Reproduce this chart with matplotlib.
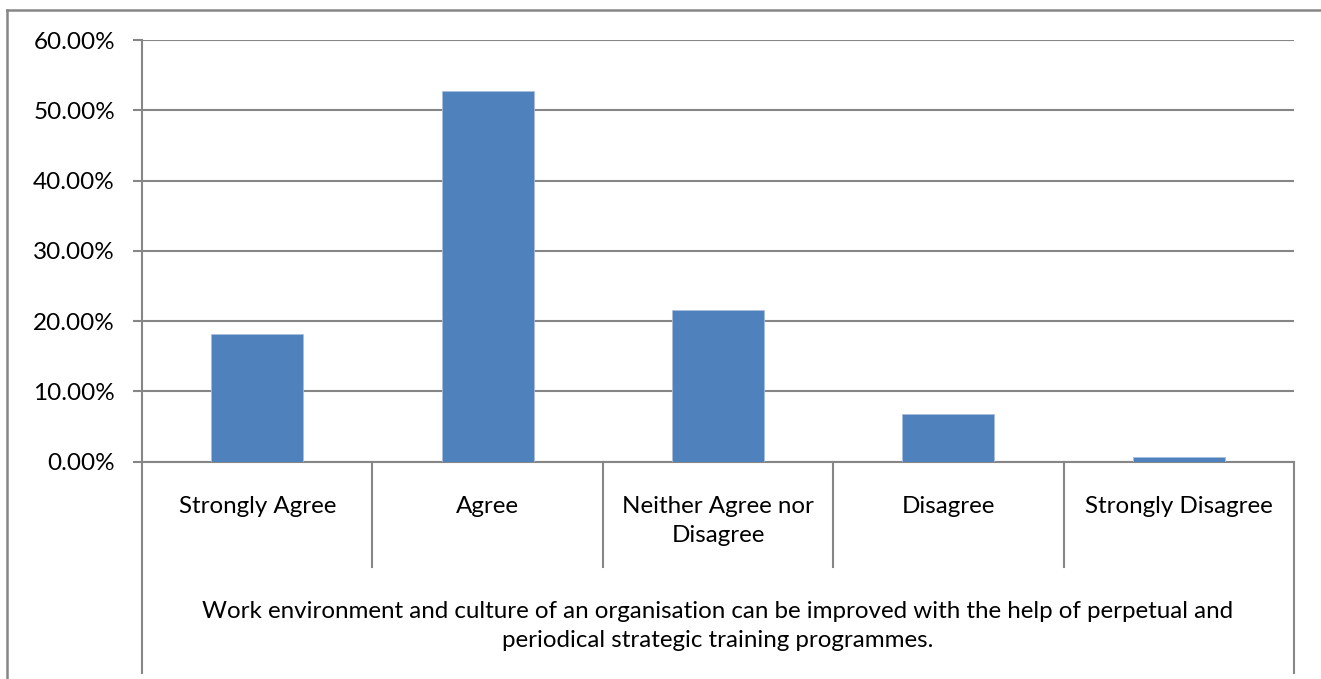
import numpy as np
import matplotlib.pyplot as plt
from matplotlib.lines import Line2D
import matplotlib.transforms as mtransforms

categories = ["Strongly Agree", "Agree", "Neither Agree nor\nDisagree", "Disagree", "Strongly Disagree"]
values = [18.2, 52.7, 21.6, 6.8, 0.7]
yticks = [0, 10, 20, 30, 40, 50, 60]
group_label = ("Work environment and culture of an organisation can be improved with the help of perpetual and\n"
               "periodical strategic training programmes.")

plt.rcParams["font.family"] = ["Lato", "DejaVu Sans"]
grey = "#868686"
fs = 17.4

W, H = 1321, 679
fig = plt.figure(figsize=(W / 100, H / 100), dpi=100)
ax = fig.add_axes([142 / W, 1 - 461.5 / H, (1294 - 142) / W, (461.5 - 40) / H])

x = np.arange(len(categories))
ax.bar(x, values, width=0.4, color="#4F81BD", edgecolor="#A7BEDC", linewidth=0.6, zorder=3)

ax.set_xlim(-0.5, len(categories) - 0.5)
ax.set_ylim(0, 60)
ax.set_yticks(yticks)
ax.set_yticklabels([f"{v:.2f}%" for v in yticks], fontsize=17.5)
ax.yaxis.grid(True, color=grey, linewidth=1.5, zorder=0)
ax.tick_params(axis="y", length=6.5, width=1.5, color=grey, pad=13)
ax.set_xticks([])
for s in ["top", "right"]:
    ax.spines[s].set_visible(False)
for s in ["left", "bottom"]:
    ax.spines[s].set_color(grey)
    ax.spines[s].set_linewidth(1.5)

# multi-level category table below the axis
ah = 461.5 - 40
y_div = -(567 - 461.5) / ah
y_end = -(673 - 461.5) / ah
trans = mtransforms.blended_transform_factory(ax.transData, ax.transAxes)
for i in range(1, len(categories)):
    ax.add_line(Line2D([i - 0.5, i - 0.5], [0, y_div], transform=trans, color=grey,
                       linewidth=1.5, clip_on=False))
ax.add_line(Line2D([-0.5, -0.5], [0, y_end], transform=trans, color=grey, linewidth=1.5, clip_on=False))
ax.add_line(Line2D([len(categories) - 0.5] * 2, [0, y_end], transform=trans, color=grey,
                   linewidth=1.5, clip_on=False))

for i, c in enumerate(categories):
    ax.text(i, -(496 - 461.5) / ah, c, transform=trans, ha="center", va="top",
            fontsize=fs, linespacing=1.45)
ax.text(0.5, -(601 - 461.5) / ah, group_label, transform=ax.transAxes, ha="center", va="top",
        fontsize=fs, linespacing=1.45)

# outer chart border (top and left visible)
fig.add_artist(Line2D([7 / W, 7 / W], [0, 1 - 10 / H], color=grey, linewidth=1.8))
fig.add_artist(Line2D([7 / W, 1], [1 - 10 / H, 1 - 10 / H], color=grey, linewidth=1.8))

fig.savefig("out.png", dpi=100)
